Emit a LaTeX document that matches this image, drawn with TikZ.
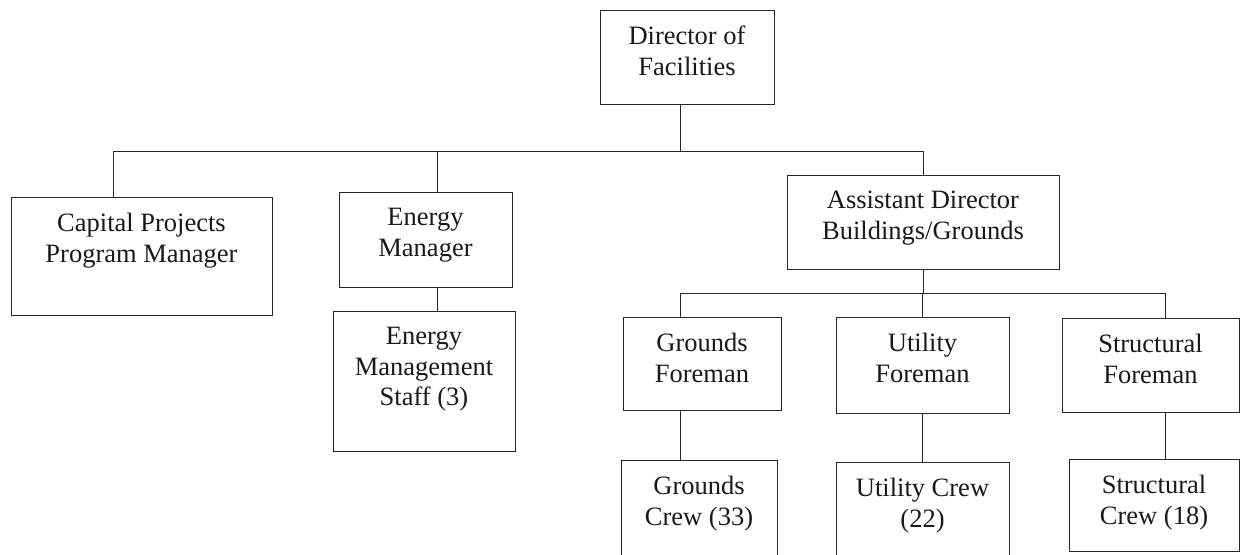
\documentclass[tikz,border=0pt]{standalone}
\usepackage{fontspec}
\setmainfont{Liberation Serif}
\begin{document}
\begin{tikzpicture}[x=1pt,y=-1pt,
  box/.style={draw=black!85, line width=0.9pt, inner sep=0pt, outer sep=0pt, anchor=north west},
  lbl/.style={anchor=north, inner sep=0pt, align=center, text=black!90,
              font=\fontsize{26.5}{30.5}\selectfont},
  conn/.style={draw=black!85, line width=0.9pt}]
\clip (0,0) rectangle (1241,554);
\fill[white] (0,0) rectangle (1241,554);
% boxes
\node[box, minimum width=174, minimum height=94] (dir) at (600,10) {};
\node[box, minimum width=261, minimum height=118] (cap) at (11,197) {};
\node[box, minimum width=173, minimum height=95] (em) at (339,192) {};
\node[box, minimum width=182, minimum height=140] (ems) at (333,311) {};
\node[box, minimum width=272, minimum height=94] (ad) at (787,175) {};
\node[box, minimum width=158, minimum height=93] (gf) at (623,317) {};
\node[box, minimum width=173, minimum height=96] (uf) at (836,317) {};
\node[box, minimum width=177, minimum height=94] (sf) at (1062,318) {};
\node[box, minimum width=156, minimum height=110] (gc) at (621,460) {};
\node[box, minimum width=173, minimum height=110] (uc) at (836,462) {};
\node[box, minimum width=170, minimum height=92] (sc) at (1069,459) {};
% labels
\node[lbl] (dirt) at ([yshift=-16pt]dir.north) {Director of\\Facilities};
\node[lbl] (capt) at ([yshift=-16pt]cap.north) {Capital Projects\\Program Manager};
\node[lbl] (emt) at ([yshift=-16pt]em.north) {Energy\\Manager};
\node[lbl] (emst) at ([yshift=-16pt]ems.north) {Energy\\Management\\Staff (3)};
\node[lbl] (adt) at ([yshift=-16pt]ad.north) {Assistant Director\\Buildings/Grounds};
\node[lbl] (gft) at ([yshift=-16pt]gf.north) {Grounds\\Foreman};
\node[lbl] (uft) at ([yshift=-16pt]uf.north) {Utility\\Foreman};
\node[lbl] (sft) at ([yshift=-16pt]sf.north) {Structural\\Foreman};
\node[lbl] (gct) at ([yshift=-16pt]gc.north) {Grounds\\Crew (33)};
\node[lbl] (uct) at ([yshift=-16pt]uc.north) {Utility Crew\\(22)};
\node[lbl] (sct) at ([yshift=-16pt]sc.north) {Structural\\Crew (18)};
% junction coordinates
\coordinate (b1d) at (680,151);
\coordinate (b1c) at (113,151);
\coordinate (b1e) at (437,151);
\coordinate (b1a) at (923,151);
\coordinate (b2g) at (680,293);
\coordinate (b2u) at (922,293);
\coordinate (b2s) at (1165,293);
% connectors
\draw[conn] (b1d |- dir.south) -- (b1d);
\draw[conn] (b1c) -- (b1a);
\draw[conn] (b1c) -- (b1c |- cap.north);
\draw[conn] (b1e) -- (b1e |- em.north);
\draw[conn] (b1a) -- (b1a |- ad.north);
\draw[conn] (b1e |- em.south) -- (b1e |- ems.north);
\draw[conn] (b1a |- ad.south) -- (b1a |- b2g);
\draw[conn] (b2g) -- (b2s);
\draw[conn] (b2g) -- (b2g |- gf.north);
\draw[conn] (b2u) -- (b2u |- uf.north);
\draw[conn] (b2s) -- (b2s |- sf.north);
\draw[conn] (b2g |- gf.south) -- (b2g |- gc.north);
\draw[conn] (b2u |- uf.south) -- (b2u |- uc.north);
\draw[conn] (b2s |- sf.south) -- (b2s |- sc.north);
\end{tikzpicture}
\end{document}
